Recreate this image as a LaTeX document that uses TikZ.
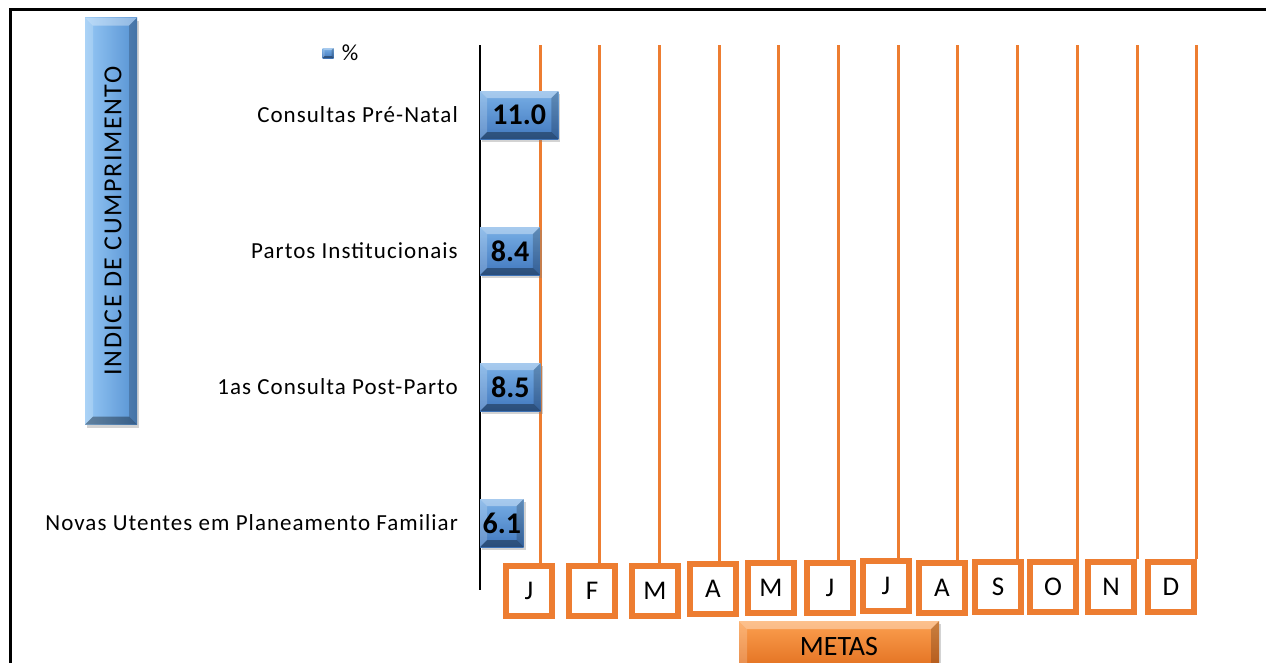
\documentclass[tikz,border=0pt]{standalone}
\usepackage{fontspec}
\setmainfont{Carlito}
\newfontfamily\labelfont[LetterSpace=4.5]{Carlito}
\newfontfamily\titlefont[LetterSpace=6]{Carlito}
\usetikzlibrary{positioning,shadows}
\definecolor{metaOrange}{RGB}{237,125,49}
\definecolor{barTop}{RGB}{120,175,230}
\definecolor{barBottom}{RGB}{65,120,190}
\definecolor{titleLeft}{RGB}{150,200,245}
\definecolor{titleRight}{RGB}{85,145,210}
\definecolor{tabTop}{RGB}{252,160,80}
\definecolor{tabBottom}{RGB}{225,110,30}
\tikzset{
    bevel/.style={path picture={
        \fill[white, opacity=.35] (path picture bounding box.north west) -- (path picture bounding box.north east)
            -- ([xshift=-#1, yshift=-#1]path picture bounding box.north east) -- ([xshift=#1, yshift=-#1]path picture bounding box.north west) -- cycle;
        \fill[white, opacity=.2] (path picture bounding box.north west) -- ([xshift=#1, yshift=-#1]path picture bounding box.north west)
            -- ([xshift=#1, yshift=#1]path picture bounding box.south west) -- (path picture bounding box.south west) -- cycle;
        \fill[black, opacity=.35] (path picture bounding box.south west) -- (path picture bounding box.south east)
            -- ([xshift=-#1, yshift=#1]path picture bounding box.south east) -- ([xshift=#1, yshift=#1]path picture bounding box.south west) -- cycle;
        \fill[black, opacity=.2] (path picture bounding box.north east) -- ([xshift=-#1, yshift=-#1]path picture bounding box.north east)
            -- ([xshift=-#1, yshift=#1]path picture bounding box.south east) -- (path picture bounding box.south east) -- cycle;
    }},
    softshadow/.style={drop shadow={opacity=.35, shadow xshift=2pt, shadow yshift=-3pt}},
    valuebar/.style={top color=barTop, bottom color=barBottom, bevel=7pt, softshadow, inner sep=0pt,
        minimum height=48pt, anchor=west, font=\bfseries\fontsize{30}{32}\selectfont},
    catlabel/.style={anchor=east, inner sep=0pt, font=\labelfont\fontsize{23}{25}\selectfont},
    monthbox/.style={draw=metaOrange, line width=6pt, fill=white, minimum width=46pt, minimum height=50pt,
        inner sep=0pt, font=\fontsize{27}{29}\selectfont},
    metaline/.style={metaOrange, line width=3pt}
}
\begin{document}
\begin{tikzpicture}[x=1pt, y=-1pt]
\def\axisX{480}
\def\axisTop{45}
\def\axisBottom{590}
\def\barScale{7.1}
\def\lineSep{59.7}
\useasboundingbox (0,0) rectangle (1266,662);
% frame
\draw[line width=3pt] (10,680) -- (10,9) -- (1280,9);
% title box and legend
\node[left color=titleLeft, right color=titleRight, bevel=8pt, softshadow, inner sep=0pt,
    minimum width=52pt, minimum height=407pt] (titleBox) at (111,221) {};
\node[rotate=90, inner sep=0pt, font=\titlefont\fontsize{26}{28}\selectfont] (title) at ([xshift=2pt]titleBox.center) {INDICE DE CUMPRIMENTO};
\node[top color=barTop, bottom color=barBottom, bevel=2pt, minimum width=11pt, minimum height=10pt, inner sep=0pt] (legKey) at (328,53) {};
\node[right=8pt of legKey, inner sep=0pt, font=\fontsize{23}{25}\selectfont] (legText) {\%};
% month boxes with their lines
\foreach \x/\y/\m [count=\i from 0] in {529/591/J, 592/591/F, 655/591/M, 713/589/A, 771/588/M, 830/588/J,
        886/586/J, 942/588/A, 998/587/S, 1053/587/O, 1111/587/N, 1171/587/D} {
    \coordinate (top\i) at (540+\i*\lineSep, \axisTop);
    \node[monthbox] (month\i) at (\x, \y) {\m};
    \draw[metaline] (top\i) -- (top\i |- month\i.north);
}
\node[top color=tabTop, bottom color=tabBottom, bevel=8pt, softshadow, inner sep=0pt,
    minimum width=200pt, minimum height=50pt, font=\fontsize{28}{30}\selectfont] (metas) at (839,646) {METAS};
% axis
\coordinate (axisTop) at (\axisX, \axisTop);
\coordinate (axisBottom) at (\axisX, \axisBottom);
\draw[line width=1.5pt] (axisTop) -- (axisBottom);
% bars
\foreach \v/\y/\c [count=\i] in {11.0/115/Consultas Pré-Natal, 8.4/251/Partos Institucionais,
        8.5/387/1as Consulta Post-Parto, 6.1/523/Novas Utentes em Planeamento Familiar} {
    \node[valuebar, minimum width=\v*\barScale pt] (bar\i) at (\axisX, \y) {\v};
    \node[catlabel] (cat\i) at (458, \y) {\c};
}
\end{tikzpicture}
\end{document}
